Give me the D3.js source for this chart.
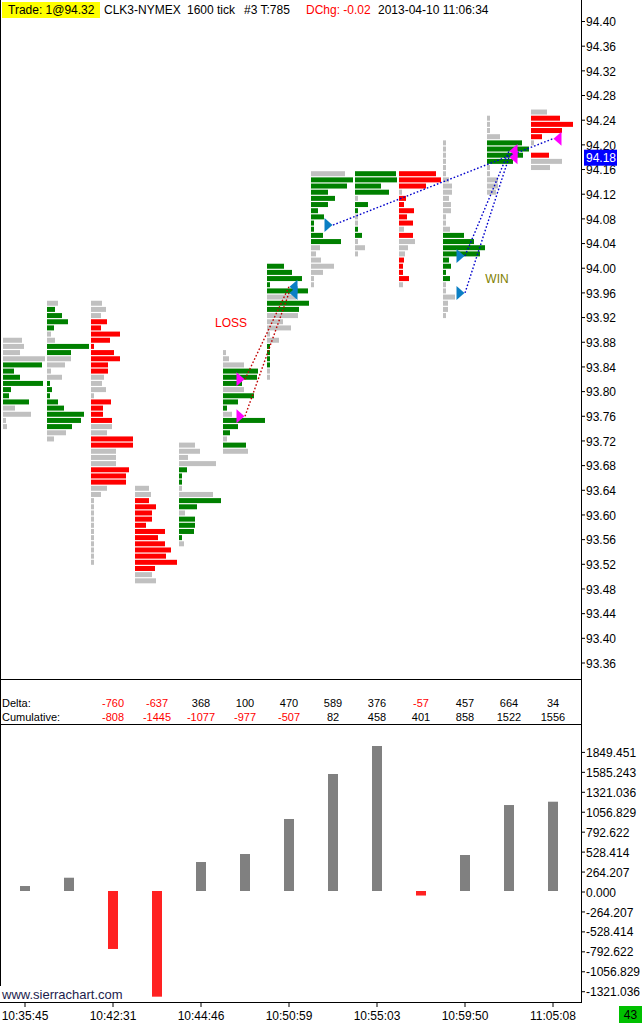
<!DOCTYPE html>
<html>
<head>
<meta charset="utf-8">
<script src="https://cdn.jsdelivr.net/npm/d3@7"></script>
<style>
body { margin: 0; background: #fff; }
svg { display: block; font-family: "Liberation Sans", Arial, sans-serif; }
</style>
</head>
<body>
<div id="chart"></div>
<script>
// ---- data ----
// volume profile per 1600-tick bar: top price, volume per 0.01 row (top down), side per row
const profileTop = [93.88, 93.94, 93.94, 93.64, 93.71, 93.86, 94.00, 94.15, 94.15, 94.15, 94.20, 94.24, 94.25];
const profileVol = [
  [19,21,17,42,39,11,17,40,8,6,26,12,28,3,4],
  [11,8,15,21,7,4,8,42,24,24,18,4,15,3,5,3,11,17,37,34,25,19,7],
  [11,15,10,16,10,29,19,3,23,29,17,17,13,11,15,3,20,12,12,21,21,16,42,42,25,25,25,38,35,35,16,10,3,3,3,3,3,3,3,3,3,3,3],
  [14,16,14,21,17,17,11,30,23,30,36,31,42,20,17,21],
  [16,21,9,37,8,3,3,3,34,42,18,6,16,16,15,3,5],
  [3,6,21,35,34,19,21,31,15,4,9,42,15,7,4,23,25],
  [17,25,35,3,41,29,42,32,31,16,24,3,12,3,3,3,3,3,3],
  [34,42,36,17,24,17,7,13,3,3,12,30,9,5,10,23,12,3,3],
  [41,42,26,34,3,13,3,3,3,3,7,3,10,3],
  [37,42,27,3,7,5,15,8,14,5,14,16,9,6,5,4,4,10,4],
  [3,3,3,3,3,3,6,9,9,6,8,8,3,3,7,21,31,42,37,6,8,3,7,3,3,12,5,5,3],
  [3,3,3,13,35,42,36,26,3,3,11,11,9],
  [16,29,42,31,11,3,0,18,31,19]
];
// g = ask dominant, r = bid dominant, n = neutral
const profileSide = [
  "nnnngggggggnnnn",
  "nggggnnggnnnnggggggggnn",
  "nnnrrrrrrrrrnnnnrrrrnnrrnnnrrrnnnnnnnnnnnnn",
  "nnrrrrrrrrrrrrnn",
  "nnnngggnnggnggggn",
  "nnngggngggngggngn",
  "gggggnggnnnnnggggnn",
  "ngggggggggggnnnnnnn",
  "ggggnggnnggnnn",
  "rrrnrrrrrnrnnnrrrrn",
  "nnnnnnnnnnnnnnnggggggggnnnnnn",
  "nnnnggggnnnnn",
  "nrrrrnnrnn"
];

const deltaCols = [2,3,4,5,6,7,8,9,10,11,12];
const deltaVals = [-760,-637,368,100,470,589,376,-57,457,664,34];
const cumVals = [-808,-1445,-1077,-977,-507,82,458,401,858,1522,1556];

const lowerVals = [66,176,-768,-1400,384,490,954,1550,1921,-60,477,1139,1183];

const priceTicks = [94.40,94.36,94.32,94.28,94.24,94.20,94.16,94.12,94.08,94.04,94.00,93.96,93.92,93.88,
                    93.84,93.80,93.76,93.72,93.68,93.64,93.60,93.56,93.52,93.48,93.44,93.40,93.36];
const lowerTicks = [1849.451,1585.243,1321.036,1056.829,792.622,528.414,264.207,0,
                    -264.207,-528.414,-792.622,-1056.829,-1321.036];

const timeCols = [0,2,4,6,8,10,12];
const timeLabels = ["10:35:45","10:42:31","10:44:46","10:50:59","10:55:03","10:59:50","11:05:08"];

const trades = [
  {entryCol:5, entryPrice:93.82, exitCol:6, exitPrice:93.97, side:"sell"},
  {entryCol:5, entryPrice:93.76, exitCol:6, exitPrice:93.96, side:"sell"},
  {entryCol:7, entryPrice:94.07, exitCol:12, exitPrice:94.21, side:"buy"},
  {entryCol:10, entryPrice:94.02, exitCol:11, exitPrice:94.19, side:"buy"},
  {entryCol:10, entryPrice:93.96, exitCol:11, exitPrice:94.18, side:"buy"}
];
const lastPrice = 94.18;
const barCount = 43;

// ---- layout ----
const width = 643, height = 1024;
const axisX = 581;
const colors = {g: "#008000", r: "#ff0000", n: "#c0c0c0"};
const sideColor = {buy: "#0b7fc4", sell: "#ff00ff"};

const svg = d3.select("#chart").append("svg")
  .attr("width", width).attr("height", height);

const x = d3.scaleLinear().domain([0, 12]).range([25, 553]);
const y = d3.scaleLinear().domain([93.36, 94.40]).range([663.0, 21.5]);
const yb = d3.scaleLinear().domain([0, 1849.451]).range([891, 751.4]);

// frame lines
svg.append("line").attr("x1", 0.5).attr("x2", 0.5).attr("y1", 0).attr("y2", 986)
  .attr("stroke", "#000");
svg.append("line").attr("x1", axisX + 0.5).attr("x2", axisX + 0.5).attr("y1", 0).attr("y2", 1002)
  .attr("stroke", "#000");
[679.5, 724.5, 1002.5].forEach(yy => {
  svg.append("line").attr("x1", 0).attr("x2", axisX + 1).attr("y1", yy).attr("y2", yy)
    .attr("stroke", "#000");
});

// volume profiles
profileVol.forEach((vols, i) => {
  const w = d3.scaleLinear().domain([0, d3.max(vols)]).range([0, 42]);
  const rows = vols.map((v, j) => ({
    price: +(profileTop[i] - j * 0.01).toFixed(2),
    v: v,
    side: profileSide[i][j]
  }));
  svg.append("g").selectAll("rect")
    .data(rows.filter(d => d.v > 0))
    .join("rect")
    .attr("x", x(i) - 22)
    .attr("y", d => y(d.price) - 4.5)
    .attr("width", d => w(d.v))
    .attr("height", 5)
    .attr("fill", d => colors[d.side]);
});

// trade lines
svg.append("g").selectAll("line")
  .data(trades)
  .join("line")
  .attr("x1", d => x(d.entryCol)).attr("y1", d => y(d.entryPrice))
  .attr("x2", d => x(d.exitCol)).attr("y2", d => y(d.exitPrice))
  .attr("stroke", d => {
    const pl = d.side === "buy" ? d.exitPrice - d.entryPrice : d.entryPrice - d.exitPrice;
    return pl < 0 ? "#c00000" : "#0000cc";
  })
  .attr("stroke-width", 1.4)
  .attr("stroke-dasharray", "1.6,2");

// trade markers
const marks = [];
trades.forEach(t => {
  marks.push({col: t.entryCol, price: t.entryPrice, dir: 1, color: sideColor[t.side]});
  marks.push({col: t.exitCol, price: t.exitPrice, dir: -1,
              color: sideColor[t.side === "buy" ? "sell" : "buy"]});
});
svg.append("g").selectAll("polygon")
  .data(marks)
  .join("polygon")
  .attr("points", d => {
    const ax = x(d.col) - 0.5 * d.dir, ay = y(d.price);
    const bx = ax - 8 * d.dir;
    return `${ax},${ay} ${bx},${ay - 7} ${bx},${ay + 7}`;
  })
  .attr("fill", d => d.color);

svg.append("text").attr("x", 231).attr("y", 326.5).attr("text-anchor", "middle")
  .attr("font-size", 12).attr("fill", "#ff0000").text("LOSS");
svg.append("text").attr("x", 497).attr("y", 282.5).attr("text-anchor", "middle")
  .attr("font-size", 12).attr("fill", "#808000").text("WIN");

// price axis
const pAx = svg.append("g");
pAx.selectAll("line").data(priceTicks).join("line")
  .attr("x1", axisX).attr("x2", axisX + 4)
  .attr("y1", d => y(d)).attr("y2", d => y(d))
  .attr("stroke", "#000");
pAx.selectAll("text").data(priceTicks).join("text")
  .attr("x", axisX + 5).attr("y", d => y(d) + 4.8)
  .attr("font-size", 12).attr("fill", "#000")
  .text(d => d.toFixed(2));

// last price box
svg.append("rect").attr("x", 584).attr("y", y(lastPrice) - 7.5).attr("width", 33).attr("height", 16)
  .attr("fill", "#0000ff");
svg.append("text").attr("x", 586).attr("y", y(lastPrice) + 4.8)
  .attr("font-size", 12).attr("fill", "#fff").text(lastPrice.toFixed(2));

// header
const head = svg.append("g").attr("font-size", 12);
head.append("rect").attr("x", 2).attr("y", 2).attr("width", 98).attr("height", 16).attr("fill", "#ffff00");
head.append("text").attr("x", 8).attr("y", 14).text("Trade: 1@94.32");
head.append("text").attr("x", 104).attr("y", 14).text("CLK3-NYMEX");
head.append("text").attr("x", 187).attr("y", 14).text("1600 tick");
head.append("text").attr("x", 244).attr("y", 14).text("#3 T:785");
head.append("text").attr("x", 306).attr("y", 14).attr("fill", "#ff0000").text("DChg: -0.02");
head.append("text").attr("x", 378).attr("y", 14).text("2013-04-10 11:06:34");

// delta table
const tbl = svg.append("g").attr("font-size", 11);
tbl.append("text").attr("x", 2).attr("y", 707).text("Delta:");
tbl.append("text").attr("x", 2).attr("y", 721).text("Cumulative:");
tbl.selectAll("text.d").data(deltaVals).join("text").attr("class", "d")
  .attr("x", (d, i) => x(deltaCols[i])).attr("y", 707).attr("text-anchor", "middle")
  .attr("fill", d => d < 0 ? "#ff0000" : "#000").text(d => d);
tbl.selectAll("text.c").data(cumVals).join("text").attr("class", "c")
  .attr("x", (d, i) => x(deltaCols[i])).attr("y", 721).attr("text-anchor", "middle")
  .attr("fill", d => d < 0 ? "#ff0000" : "#000").text(d => d);

// lower pane bars
svg.append("g").selectAll("rect")
  .data(lowerVals)
  .join("rect")
  .attr("x", (d, i) => x(i) - 5)
  .attr("y", d => Math.min(yb(d), yb(0)))
  .attr("width", 10)
  .attr("height", d => Math.abs(yb(d) - yb(0)))
  .attr("fill", d => d < 0 ? "#ff2222" : "#808080");

const lAx = svg.append("g");
lAx.selectAll("line").data(lowerTicks).join("line")
  .attr("x1", axisX).attr("x2", axisX + 4)
  .attr("y1", d => yb(d) + 1).attr("y2", d => yb(d) + 1)
  .attr("stroke", "#000");
lAx.selectAll("text").data(lowerTicks).join("text")
  .attr("x", axisX + 5).attr("y", d => yb(d) + 5.6)
  .attr("font-size", 12).attr("fill", "#000")
  .text(d => d.toFixed(3));

// time axis
const tAx = svg.append("g");
tAx.selectAll("line").data(timeCols).join("line")
  .attr("x1", d => x(d)).attr("x2", d => x(d))
  .attr("y1", 1002).attr("y2", 1007).attr("stroke", "#000");
tAx.selectAll("text").data(timeLabels).join("text")
  .attr("x", (d, i) => x(timeCols[i])).attr("y", 1019.5)
  .attr("text-anchor", "middle").attr("font-size", 12).text(d => d);

svg.append("text").attr("x", 2).attr("y", 999).attr("font-size", 13).attr("fill", "#1c1c4c")
  .text("www.sierrachart.com");

svg.append("rect").attr("x", 619).attr("y", 1006).attr("width", 23).attr("height", 17)
  .attr("fill", "#00c000");
svg.append("text").attr("x", 630.5).attr("y", 1019).attr("text-anchor", "middle")
  .attr("font-size", 12).text(barCount);
</script>
</body>
</html>
